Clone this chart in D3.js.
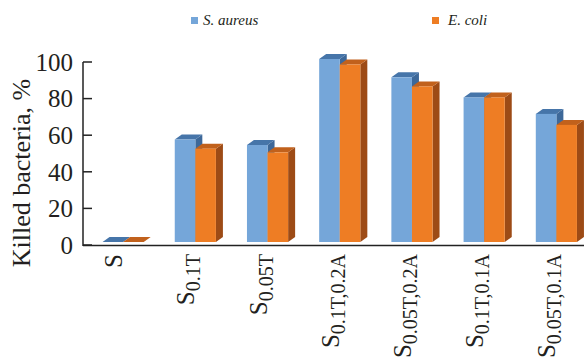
<!DOCTYPE html>
<html>
<head>
<meta charset="utf-8">
<script src="https://cdn.jsdelivr.net/npm/d3@7"></script>
</head>
<body style="margin:0">
<svg id="chart" width="584" height="364"></svg>
<script>
// Samples: base letter + subscript composition
const categories = ["S", "S0.1T", "S0.05T", "S0.1T,0.2A", "S0.05T,0.2A", "S0.1T,0.1A", "S0.05T,0.1A"];
const seriesNames = ["S. aureus", "E. coli"];
const aureusValues = [0, 56, 53, 100, 90, 79, 70];
const coliValues = [0, 51, 49, 97, 85, 79, 64];
const yTicks = [0, 20, 40, 60, 80, 100];

const palette = [
  { front: "#75a6d9", top: "#4675a9", side: "#3d6899" },
  { front: "#ee7d24", top: "#c1611c", side: "#9d4b16" }
];

const svg = d3.select("#chart");

const y = d3.scaleLinear().domain([0, 100]).range([245, 62]);
const x = d3.scaleBand().domain(categories).range([71.5, 608]).padding(0.43);
const xs = d3.scaleBand().domain(seriesNames).range([0, x.bandwidth()]);

// 3D extrusion of the columns
const depthX = 7, depthY = 5, floorLift = 3;

// Axes: vertical line, baseline, inward ticks
const axisX = 83;
svg.append("line")
  .attr("x1", axisX).attr("x2", axisX)
  .attr("y1", y(100)).attr("y2", y(0) + 1)
  .attr("stroke", "#222").attr("stroke-width", 1.5);
svg.append("line")
  .attr("x1", axisX).attr("x2", 584)
  .attr("y1", y(0) + 0.5).attr("y2", y(0) + 0.5)
  .attr("stroke", "#222").attr("stroke-width", 1.5);

svg.selectAll(".ytick").data(yTicks).join("line")
  .attr("class", "ytick")
  .attr("x1", axisX).attr("x2", axisX + 9)
  .attr("y1", d => y(d)).attr("y2", d => y(d))
  .attr("stroke", "#222").attr("stroke-width", 1.5);

svg.selectAll(".ylab").data(yTicks).join("text")
  .attr("class", "ylab")
  .attr("x", 73).attr("y", d => y(d))
  .attr("dy", "0.35em")
  .attr("text-anchor", "end")
  .attr("font-family", "Liberation Serif")
  .attr("font-size", 25)
  .attr("fill", "#231f20")
  .text(d => d);

// Axis title
svg.append("text")
  .attr("transform", "translate(30,173) rotate(-90)")
  .attr("text-anchor", "middle")
  .attr("font-family", "Liberation Serif")
  .attr("font-size", 26)
  .attr("fill", "#231f20")
  .text("Killed bacteria, %");

// Columns
const rows = categories.map((c, i) => ({ cat: c, vals: [aureusValues[i], coliValues[i]] }));
const base = y(0) - floorLift;

rows.forEach(r => {
  r.vals.forEach((v, si) => {
    const x0 = x(r.cat) + xs(seriesNames[si]);
    const w = xs.bandwidth();
    const top = y(v) - floorLift;
    const col = palette[si];
    const g = svg.append("g");
    // side face
    g.append("polygon")
      .attr("points", [[x0 + w, top], [x0 + w + depthX, top - depthY], [x0 + w + depthX, base - depthY], [x0 + w, base]].join(" "))
      .attr("fill", col.side);
    // top face
    g.append("polygon")
      .attr("points", [[x0, top], [x0 + depthX, top - depthY], [x0 + w + depthX, top - depthY], [x0 + w, top]].join(" "))
      .attr("fill", col.top);
    // front face
    g.append("rect")
      .attr("x", x0).attr("y", top)
      .attr("width", w).attr("height", Math.max(0, base - top))
      .attr("fill", col.front);
  });
});

// Category labels, rotated, with subscripts
const labelY = 254;
categories.forEach(c => {
  const cx = x(c) + x.bandwidth() / 2 - 1;
  const t = svg.append("text")
    .attr("transform", `translate(${cx},${labelY}) rotate(-90)`)
    .attr("text-anchor", "end")
    .attr("font-family", "Liberation Serif")
    .attr("fill", "#231f20")
    .attr("font-size", 25);
  t.append("tspan").text(c.slice(0, 1));
  if (c.length > 1) {
    t.append("tspan").attr("font-size", 20).attr("dy", 6).text(c.slice(1));
  }
});

// Legend
const legendPos = [{ sx: 191, tx: 203 }, { sx: 432, tx: 448 }];
seriesNames.forEach((name, i) => {
  svg.append("rect")
    .attr("x", legendPos[i].sx).attr("y", 17)
    .attr("width", 7).attr("height", 7)
    .attr("fill", palette[i].front);
  svg.append("text")
    .attr("x", legendPos[i].tx).attr("y", 25)
    .attr("font-family", "Liberation Serif")
    .attr("font-size", 15)
    .attr("font-style", "italic")
    .attr("fill", "#231f20")
    .text(name);
});
</script>
</body>
</html>
